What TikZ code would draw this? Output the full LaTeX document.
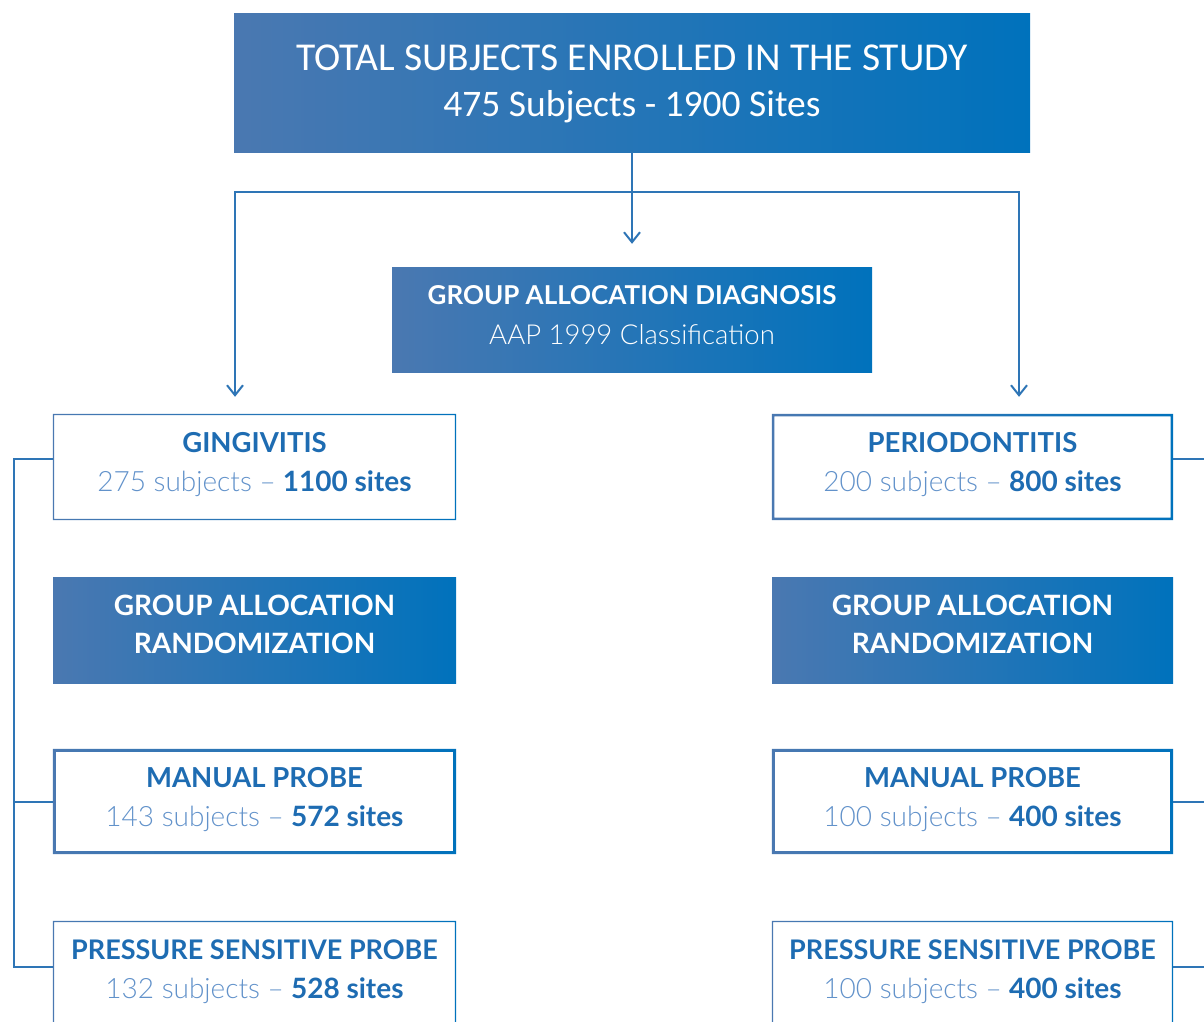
\documentclass[tikz,border=0pt]{standalone}
\usepackage{fontspec}
\setmainfont{Lato}
\newfontfamily\lightfont{Lato Light}
\newfontfamily\topfont{Carlito}
\usetikzlibrary{arrows.meta,calc}

\definecolor{gl}{RGB}{74,120,177}
\definecolor{gr}{RGB}{0,114,188}
\definecolor{lnk}{RGB}{46,117,182}
\definecolor{ttl}{RGB}{30,108,178}
\definecolor{sub}{RGB}{98,146,202}

% gradient frame drawn inside a node's outline
\newcommand\gframe[2]{%
  \shade[left color=gl,right color=gr,even odd rule]
    (#1.south west) rectangle (#1.north east)
    ($(#1.south west)+(#2,-#2)$) rectangle ($(#1.north east)+(-#2,#2)$);}

\tikzset{
  fillbox/.style={left color=gl,right color=gr,inner sep=0pt,minimum width=#1},
  fillbox/.default=403pt,
  outbox/.style={inner sep=0pt,minimum width=#1,minimum height=106pt},
  outbox/.default=403pt,
  whitetext/.style={text=white,align=center,inner sep=0pt},
  bluetext/.style={text=ttl,align=center,inner sep=0pt,font=\fontsize{28}{39}\selectfont},
  link/.style={draw=lnk,line width=2pt},
  arr/.style={link,-{Straight Barb[length=10pt,width=16pt,line width=2pt]}},
}
\newcommand\boxtitle[1]{{\fontsize{27.5}{39}\selectfont\bfseries #1}}
\newcommand\counts[2]{{\lightfont\color{sub}#1 subjects –} \textbf{#2 sites}}

\begin{document}
\begin{tikzpicture}[x=1pt,y=-1pt]
\useasboundingbox (0,0) rectangle (1204,1021);

% headline box
\node[fillbox=796pt,minimum height=139pt] (top) at (632,82.5) {};
\node[whitetext,font=\topfont\fontsize{38}{46}\selectfont] (toplabel) at ([yshift=-1pt]top.center)
  {{\fontsize{39.5}{46}\selectfont TOTAL SUBJECTS ENROLLED IN THE STUDY}\\
   {\fontsize{37.5}{46}\selectfont 475 Subjects - 1900 Sites}};

% diagnosis box
\node[fillbox=480pt,minimum height=105pt] (diag) at (632,319.5) {};
\node[whitetext,font=\fontsize{26}{40}\selectfont] (diaglabel) at ([yshift=4pt]diag.center)
  {\bfseries GROUP ALLOCATION DIAGNOSIS\\{\lightfont\fontsize{27.5}{40}\selectfont AAP 1999 Classification}};

% group boxes
\node[outbox] (ging) at (254.5,467) {};
\node[bluetext] (ginglabel) at ([yshift=2pt]ging.center)
  {\boxtitle{GINGIVITIS}\\\counts{275}{1100}};
\node[outbox=401pt] (perio) at (972.5,467) {};
\node[bluetext] (periolabel) at ([yshift=2pt]perio.center)
  {\boxtitle{PERIODONTITIS}\\\counts{200}{800}};

% randomization boxes
\node[fillbox,minimum height=106pt] (randl) at (254.5,630) {};
\node[whitetext,font=\bfseries\fontsize{28}{38}\selectfont] (randllabel)
  at ([yshift=6pt]randl.center) {GROUP ALLOCATION\\RANDOMIZATION};
\node[fillbox=401pt,minimum height=106pt] (randr) at (972.5,630) {};
\node[whitetext,font=\bfseries\fontsize{28}{38}\selectfont] (randrlabel)
  at ([yshift=6pt]randr.center) {GROUP ALLOCATION\\RANDOMIZATION};

% probe boxes
\node[outbox,minimum height=105pt] (manl) at (254.5,801.5) {};
\node[bluetext] (manllabel) at ([yshift=2pt]manl.center)
  {\boxtitle{MANUAL PROBE}\\\counts{143}{572}};
\node[outbox=401pt,minimum height=105pt] (manr) at (972.5,801.5) {};
\node[bluetext] (manrlabel) at ([yshift=2pt]manr.center)
  {\boxtitle{MANUAL PROBE}\\\counts{100}{400}};
\node[outbox] (presl) at (254.5,974) {};
\node[bluetext] (presllabel) at ([yshift=2pt]presl.center)
  {{\fontsize{27}{39}\selectfont\bfseries PRESSURE SENSITIVE PROBE}\\\counts{132}{528}};
\node[outbox=401pt] (presr) at (972.5,974) {};
\node[bluetext] (presrlabel) at ([yshift=2pt]presr.center)
  {{\fontsize{27}{39}\selectfont\bfseries PRESSURE SENSITIVE PROBE}\\\counts{100}{400}};

% frames
\gframe{ging}{1.3}
\gframe{perio}{2.6}
\gframe{manl}{3}
\gframe{manr}{3}
\gframe{presl}{1.3}
\gframe{presr}{1.3}

% connectors from the headline box
\coordinate (split) at (632,192);
\draw[arr] (top.south) -- ($(diag.north)+(0,-23)$);
\draw[arr] (split) -| ($(ging.north)+(-19.5,-17)$);
\draw[arr] (split) -| ($(perio.north)+(46.5,-17)$);

% left bracket
\draw[link] ([yshift=8pt]ging.west) -- ++(-39,0) |- ([yshift=7pt]presl.west);
\draw[link] (manl.west) -- ++(-39,0);

% right stubs
\draw[link] ([yshift=8pt]perio.east) -- ++(32,0);
\draw[link] (manr.east) -- ++(32,0);
\draw[link] ([yshift=7pt]presr.east) -- ++(32,0);
\end{tikzpicture}
\end{document}
